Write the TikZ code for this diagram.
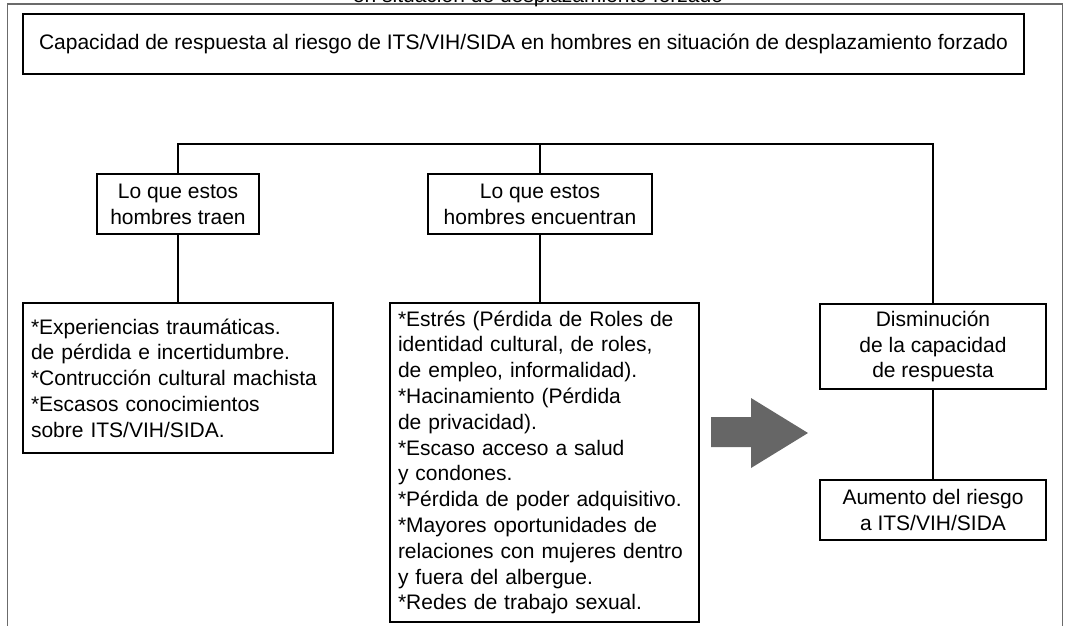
\documentclass[tikz,border=0pt]{standalone}
\usepackage{fontspec}
\setmainfont{Liberation Sans}
\begin{document}
\begin{tikzpicture}[x=1pt,y=-1pt,
  txt/.style={font=\fontsize{21}{25.8}\selectfont},
  boxc/.style={txt,draw=black,line width=2.5pt,inner sep=0pt,align=center},
  boxl/.style={txt,draw=black,line width=2.5pt,inner ysep=0pt,inner xsep=8pt,align=left},
  link/.style={draw=black,line width=2.5pt},
  frame/.style={draw=black!58,line width=1.6pt}]
\useasboundingbox (0,0) rectangle (1067,625);
% outer frame (partially visible)
\draw[frame] (7.5,700) -- (7.5,4) -- (1062.5,4) -- (1062.5,700);
\node[txt,anchor=base] (cut) at (538,2.5) {en situación de desplazamiento forzado};
% title
\node[boxc,minimum width=1001pt,minimum height=60pt] (title) at (523.5,44)
  {Capacidad de respuesta al riesgo de ITS/VIH/SIDA en hombres en situación de desplazamiento forzado};
% second level
\node[boxc,minimum width=162pt,minimum height=60pt] (traen) at (178,204)
  {Lo que estos\\hombres traen};
\node[boxc,minimum width=224pt,minimum height=60pt] (encuentran) at (540,204)
  {Lo que estos\\hombres encuentran};
% lower boxes
\node[boxl,text width=294pt,minimum height=150pt] (lowleft) at (178,378)
  {{*}Experiencias traumáticas.\\de pérdida e incertidumbre.\\{*}Contrucción cultural machista\\{*}Escasos conocimientos\\sobre ITS/VIH/SIDA.};
\node[boxl,text width=293pt,minimum height=319pt] (lowmid) at (544.5,462.5)
  {{*}Estrés (Pérdida de Roles de\\identidad cultural, de roles,\\de empleo, informalidad).\\{*}Hacinamiento (Pérdida\\de privacidad).\\{*}Escaso acceso a salud\\y condones.\\{*}Pérdida de poder adquisitivo.\\{*}Mayores oportunidades de\\relaciones con mujeres dentro\\y fuera del albergue.\\{*}Redes de trabajo sexual.};
\node[boxc,minimum width=226pt,minimum height=85pt] (dism) at (933,346.5)
  {Disminución\\de la capacidad\\de respuesta};
\node[boxc,minimum width=226pt,minimum height=60pt] (aumento) at (933,510)
  {Aumento del riesgo\\a ITS/VIH/SIDA};
% connectors
\coordinate (bar) at (540,144);
\draw[link] (traen.north) |- (bar) -| (dism.north);
\draw[link] (bar) -- (encuentran.north);
\draw[link] (traen.south) -- (lowleft.north);
\draw[link] (encuentran.south) -- (encuentran.south |- lowmid.north);
\draw[link] (dism.south) -- (aumento.north);
% big arrow
\fill[black!60] (711,417) -- (751,417) -- (751,398) -- (808,433) -- (751,468) -- (751,447) -- (711,447) -- cycle;
\end{tikzpicture}
\end{document}
